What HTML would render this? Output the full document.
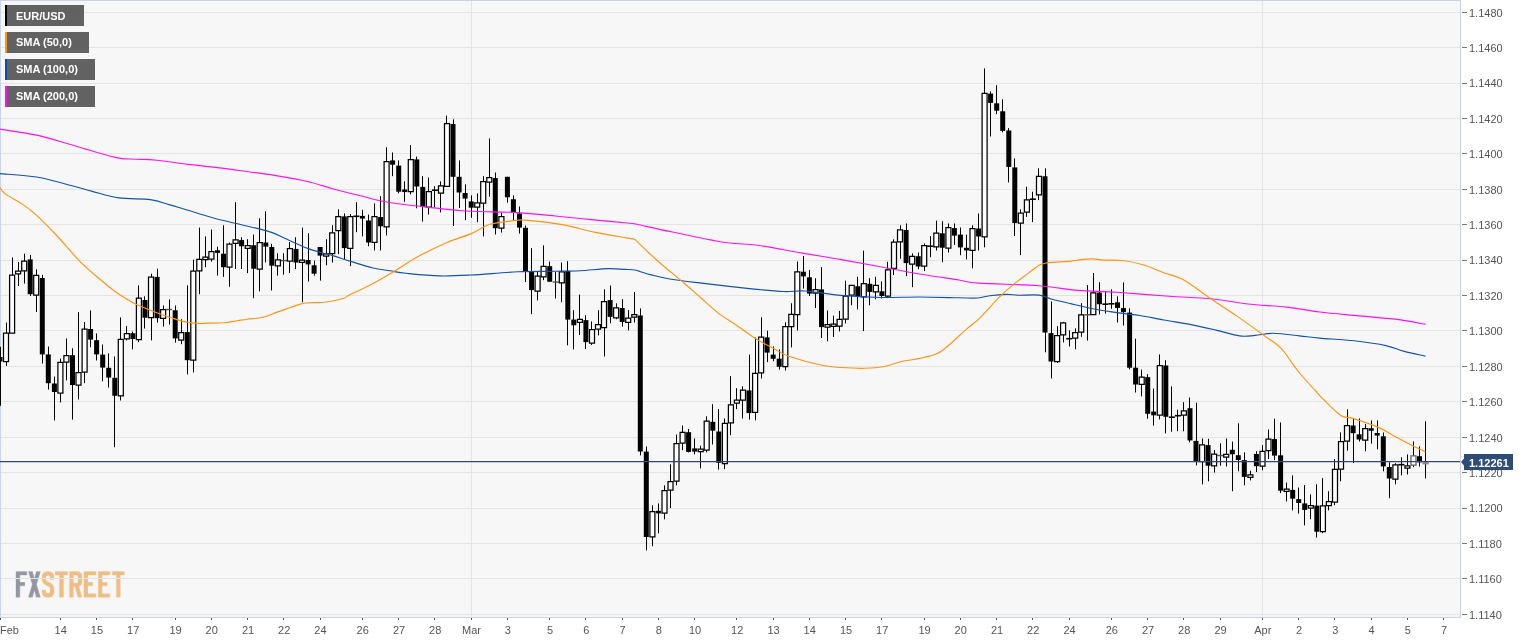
<!DOCTYPE html>
<html><head><meta charset="utf-8"><title>EUR/USD</title>
<style>
html,body{margin:0;padding:0;background:#fff;}
body{width:1531px;height:643px;overflow:hidden;font-family:"Liberation Sans",sans-serif;}
svg{display:block;will-change:transform;opacity:0.999}
text{font-family:"Liberation Sans",sans-serif;font-size:11px;}
.ax{fill:#555;}
.lg{fill:#fff;font-weight:bold;}
</style></head><body>
<svg width="1531" height="643" viewBox="0 0 1531 643">
<rect x="0" y="0" width="1531" height="643" fill="#fff"/>
<rect x="0" y="0" width="1461" height="618" fill="#f7f7f7"/>
<svg x="8" y="562" width="126" height="43" viewBox="0 0 1531 522">
<g fill="#9397a3"><path d="M95 115H230V160H145V245H205V290H145V430H95z"/><path d="M245 115H298L320 200L342 115H395L347 272L395 430H342L320 345L298 430H245L293 272z"/></g>
<g fill="#edbd84"><path d="M570 115H725V160H675V430H622V160H570z"/><path d="M1265 115H1415V160H1365V430H1315V160H1265z"/><path d="M920 115H1070V160H970V245H1030V290H970V385H1070V430H920z"/><path d="M1095 115H1240V160H1145V245H1205V290H1145V385H1240V430H1095z"/><path d="M745 115H835Q900 115 900 180V235Q900 285 862 298L900 430H848L812 300H795V430H745z M795 160V255H830Q850 255 850 232V183Q850 160 830 160z" fill-rule="evenodd"/></g>
<path d="M535 215V185Q535 138 485 138Q435 138 435 185V205Q435 240 470 258L500 274Q535 292 535 325V360Q535 407 485 407Q435 407 435 360V340" fill="none" stroke="#edbd84" stroke-width="50"/>
</svg>
<path d="M1 12.50 H1460 M1 47.50 H1460 M1 83.50 H1460 M1 118.50 H1460 M1 153.50 H1460 M1 189.50 H1460 M1 224.50 H1460 M1 260.50 H1460 M1 295.50 H1460 M1 330.50 H1460 M1 366.50 H1460 M1 401.50 H1460 M1 437.50 H1460 M1 472.50 H1460 M1 508.50 H1460 M1 543.50 H1460 M1 578.50 H1460 M1 614.50 H1460 M471.5 1 V617 M1262.5 1 V617" stroke="#e4e4e4" stroke-width="1" fill="none"/>
<path d="M0.5 0V617.5H1460.5V0 M0 0.5H1461" stroke="#ccd3e6" stroke-width="1" fill="none" shape-rendering="crispEdges"/>
<g clip-path="url(#cp)">
<clipPath id="cp"><rect x="0" y="1" width="1460" height="616"/></clipPath>
<path d="M0.5 346.8V405.7" stroke="#000"/><path d="M-2.5 357h5V361.5h-5z"/>
<path d="M6.5 322.5V366" stroke="#000"/><path d="M3.5 333.1h5V361.7h-5z" fill="#fff" stroke="#000" stroke-width="1.25"/>
<path d="M12.5 257.4V333.3" stroke="#000"/><path d="M9.6 275.1h5V333.2h-5z" fill="#fff" stroke="#000" stroke-width="1.25"/>
<path d="M18.5 262V286" stroke="#000"/><path d="M15.6 271.1h5V273.9h-5z" fill="#fff" stroke="#000" stroke-width="1.25"/>
<path d="M24.5 253.7V283.5" stroke="#000"/><path d="M21.7 261.1h5V270.9h-5z" fill="#fff" stroke="#000" stroke-width="1.25"/>
<path d="M30.5 255V296" stroke="#000"/><path d="M27.7 259.4h5V294.2h-5z"/>
<path d="M36.5 269.4V312" stroke="#000"/><path d="M33.7 275.4h5V295.1h-5z" fill="#fff" stroke="#000" stroke-width="1.25"/>
<path d="M42.5 274.8V363.6" stroke="#000"/><path d="M39.8 278h5V354.4h-5z"/>
<path d="M48.5 346.5V389.6" stroke="#000"/><path d="M45.8 354.4h5V383.2h-5z"/>
<path d="M54.5 376.5V420.5" stroke="#000"/><path d="M51.9 383.5h5V392h-5z"/>
<path d="M60.5 358.6V402.4" stroke="#000"/><path d="M57.9 362.3h5V393.1h-5z" fill="#fff" stroke="#000" stroke-width="1.25"/>
<path d="M66.5 338.4V380.4" stroke="#000"/><path d="M63.9 355.5h5V362.1h-5z" fill="#fff" stroke="#000" stroke-width="1.25"/>
<path d="M72.5 348.3V419.6" stroke="#000"/><path d="M70 355.2h5V385h-5z"/>
<path d="M78.5 312.1V399.4" stroke="#000"/><path d="M76 372.5h5V385.1h-5z" fill="#fff" stroke="#000" stroke-width="1.25"/>
<path d="M84.5 322V383.2" stroke="#000"/><path d="M82.1 329.1h5V372.2h-5z" fill="#fff" stroke="#000" stroke-width="1.25"/>
<path d="M90.5 310.4V347.2" stroke="#000"/><path d="M88.1 329h5V339.6h-5z"/>
<path d="M96.5 333.4V360.5" stroke="#000"/><path d="M94.1 340.2h5V354.4h-5z"/>
<path d="M102.5 344.5V381.3" stroke="#000"/><path d="M100.2 354.6h5V367.6h-5z"/>
<path d="M108.5 353.4V387.5" stroke="#000"/><path d="M106.2 367.8h5V377.6h-5z"/>
<path d="M114.5 356.5V447.2" stroke="#000"/><path d="M112.3 377.8h5V395.8h-5z"/>
<path d="M120.5 317.4V400.5" stroke="#000"/><path d="M118.3 339.3h5V395.8h-5z" fill="#fff" stroke="#000" stroke-width="1.25"/>
<path d="M126.5 326.1V340.4" stroke="#000"/><path d="M124.4 333.5h5V338.9h-5z" fill="#fff" stroke="#000" stroke-width="1.25"/>
<path d="M132.5 331.5V349.4" stroke="#000"/><path d="M130.4 333.2h5V339h-5z"/>
<path d="M138.5 285.4V342.2" stroke="#000"/><path d="M136.4 298.2h5V339.7h-5z" fill="#fff" stroke="#000" stroke-width="1.25"/>
<path d="M144.5 296.4V328.5" stroke="#000"/><path d="M142.5 300h5V317.7h-5z"/>
<path d="M151.5 273.7V340.4" stroke="#000"/><path d="M148.5 277h5V317.6h-5z" fill="#fff" stroke="#000" stroke-width="1.25"/>
<path d="M157.5 268.7V322.6" stroke="#000"/><path d="M154.6 276.9h5V318.2h-5z"/>
<path d="M163.5 305.5V326.6" stroke="#000"/><path d="M160.6 309.6h5V318.4h-5z" fill="#fff" stroke="#000" stroke-width="1.25"/>
<path d="M169.5 299.4V324.6" stroke="#000"/><path d="M166.1 309.5h6" stroke="#505050" stroke-width="1.4"/>
<path d="M175.5 305.5V342.6" stroke="#000"/><path d="M172.7 310.3h5V338.4h-5z"/>
<path d="M181.5 319.2V344.2" stroke="#000"/><path d="M178.7 332.5h5V340.2h-5z" fill="#fff" stroke="#000" stroke-width="1.25"/>
<path d="M187.5 285.4V374.4" stroke="#000"/><path d="M184.8 332.1h5V360.2h-5z"/>
<path d="M193.5 259.7V372.5" stroke="#000"/><path d="M190.8 271h5V360.2h-5z" fill="#fff" stroke="#000" stroke-width="1.25"/>
<path d="M199.5 227.6V294.2" stroke="#000"/><path d="M196.8 259.4h5V270.8h-5z" fill="#fff" stroke="#000" stroke-width="1.25"/>
<path d="M205.5 236.4V267.2" stroke="#000"/><path d="M202.9 257.2h5V259.6h-5z" fill="#fff" stroke="#000" stroke-width="1.25"/>
<path d="M211.5 229.5V261.6" stroke="#000"/><path d="M208.9 251.5h5V259.2h-5z" fill="#fff" stroke="#000" stroke-width="1.25"/>
<path d="M217.5 246.6V275.6" stroke="#000"/><path d="M215 250.3h5V252.9h-5z"/>
<path d="M223.5 225.2V276.9" stroke="#000"/><path d="M221 253.7h5V267.2h-5z"/>
<path d="M229.5 242.5V286.8" stroke="#000"/><path d="M227 244h5V267.1h-5z" fill="#fff" stroke="#000" stroke-width="1.25"/>
<path d="M235.5 202.2V269" stroke="#000"/><path d="M233.1 239.8h5V243.3h-5z" fill="#fff" stroke="#000" stroke-width="1.25"/>
<path d="M241.5 237.3V269" stroke="#000"/><path d="M239.1 240.1h5V246.3h-5z"/>
<path d="M247.5 239.2V273.1" stroke="#000"/><path d="M245.2 245.5h5V248.3h-5z" fill="#fff" stroke="#000" stroke-width="1.25"/>
<path d="M253.5 234.5V298.3" stroke="#000"/><path d="M251.2 245.3h5V268.7h-5z"/>
<path d="M259.5 218.3V291.4" stroke="#000"/><path d="M257.2 242.7h5V269.2h-5z" fill="#fff" stroke="#000" stroke-width="1.25"/>
<path d="M265.5 211.2V262.5" stroke="#000"/><path d="M263.3 242.5h5V246.6h-5z"/>
<path d="M271.5 243.8V290.5" stroke="#000"/><path d="M269.3 247h5V265.7h-5z"/>
<path d="M277.5 253.2V275.6" stroke="#000"/><path d="M275.4 259.8h5V265.8h-5z" fill="#fff" stroke="#000" stroke-width="1.25"/>
<path d="M283.5 253.2V274.6" stroke="#000"/><path d="M280.9 260.6h6" stroke="#505050" stroke-width="1.4"/>
<path d="M289.5 242V273.1" stroke="#000"/><path d="M287.4 248.7h5V261.1h-5z" fill="#fff" stroke="#000" stroke-width="1.25"/>
<path d="M295.5 237.3V269" stroke="#000"/><path d="M293.5 248.9h5V262.5h-5z"/>
<path d="M302.5 227.6V302.2" stroke="#000"/><path d="M299.5 260.1h5V262.4h-5z" fill="#fff" stroke="#000" stroke-width="1.25"/>
<path d="M308.5 233.2V281.5" stroke="#000"/><path d="M305.6 260h5V264.4h-5z"/>
<path d="M314.5 260.6V275.6" stroke="#000"/><path d="M311.6 265.3h5V273.7h-5z"/>
<path d="M320.5 247V280.6" stroke="#000"/><path d="M317.6 247h5V255.6h-5z"/>
<path d="M326.5 239.2V265.3" stroke="#000"/><path d="M323.7 253.9h5V256.2h-5z" fill="#fff" stroke="#000" stroke-width="1.25"/>
<path d="M332.5 225.2V262.5" stroke="#000"/><path d="M329.7 232.8h5V253.5h-5z" fill="#fff" stroke="#000" stroke-width="1.25"/>
<path d="M338.5 209.3V254.1" stroke="#000"/><path d="M335.8 216.6h5V230.7h-5z" fill="#fff" stroke="#000" stroke-width="1.25"/>
<path d="M344.5 213.4V259.7" stroke="#000"/><path d="M341.8 216.4h5V248.1h-5z"/>
<path d="M350.5 214V266.2" stroke="#000"/><path d="M347.8 216.6h5V248.3h-5z" fill="#fff" stroke="#000" stroke-width="1.25"/>
<path d="M356.5 202.2V232.2" stroke="#000"/><path d="M353.4 216.3h6" stroke="#000" stroke-width="1.6"/>
<path d="M362.5 209.8V236.4" stroke="#000"/><path d="M359.9 215.9h5V218.6h-5z"/>
<path d="M368.5 214.6V246.3" stroke="#000"/><path d="M366 220.5h5V242.5h-5z"/>
<path d="M374.5 203.4V250.4" stroke="#000"/><path d="M372 216.6h5V242.3h-5z" fill="#fff" stroke="#000" stroke-width="1.25"/>
<path d="M380.5 196.2V250.4" stroke="#000"/><path d="M378.1 217h5V226.3h-5z"/>
<path d="M386.5 147.3V235.4" stroke="#000"/><path d="M384.1 161.5h5V226.9h-5z" fill="#fff" stroke="#000" stroke-width="1.25"/>
<path d="M392.5 152.5V176.2" stroke="#000"/><path d="M390.1 160.4h5V164.7h-5z"/>
<path d="M398.5 160.4V193.4" stroke="#000"/><path d="M396.2 165.6h5V191.7h-5z"/>
<path d="M404.5 181.3V201.7" stroke="#000"/><path d="M402.2 189.5h5V192.1h-5z"/>
<path d="M410.5 145.1V194.3" stroke="#000"/><path d="M408.3 159.6h5V191.5h-5z" fill="#fff" stroke="#000" stroke-width="1.25"/>
<path d="M416.5 156.6V208.3" stroke="#000"/><path d="M414.3 159.4h5V186.5h-5z"/>
<path d="M422.5 176.2V221.6" stroke="#000"/><path d="M420.3 186.9h5V207h-5z"/>
<path d="M428.5 177.5V214.5" stroke="#000"/><path d="M426.4 191.7h5V207.2h-5z" fill="#fff" stroke="#000" stroke-width="1.25"/>
<path d="M434.5 186.1V207.2" stroke="#000"/><path d="M431.9 190.2h6" stroke="#000" stroke-width="1.6"/>
<path d="M440.5 181.3V212.4" stroke="#000"/><path d="M438.5 185.8h5V193.2h-5z" fill="#fff" stroke="#000" stroke-width="1.25"/>
<path d="M446.5 115.6V186.5" stroke="#000"/><path d="M444.5 123.6h5V186.3h-5z" fill="#fff" stroke="#000" stroke-width="1.25"/>
<path d="M453.5 119.3V226" stroke="#000"/><path d="M450.5 124h5V176.8h-5z"/>
<path d="M459.5 160.4V208" stroke="#000"/><path d="M456.6 176.8h5V192.5h-5z"/>
<path d="M465.5 184.3V220.2" stroke="#000"/><path d="M462.6 193h5V198.6h-5z"/>
<path d="M471.5 195.4V217.8" stroke="#000"/><path d="M468.7 201.4h5V207.7h-5z"/>
<path d="M477.5 193.4V222.2" stroke="#000"/><path d="M474.7 202.8h5V207.2h-5z" fill="#fff" stroke="#000" stroke-width="1.25"/>
<path d="M483.5 176.2V236.4" stroke="#000"/><path d="M480.7 181.5h5V203.2h-5z" fill="#fff" stroke="#000" stroke-width="1.25"/>
<path d="M489.5 138.4V196.8" stroke="#000"/><path d="M486.8 177.7h5V182h-5z" fill="#fff" stroke="#000" stroke-width="1.25"/>
<path d="M495.5 172.5V234.5" stroke="#000"/><path d="M492.8 178.1h5V228.2h-5z"/>
<path d="M501.5 212.8V232.6" stroke="#000"/><path d="M498.9 216.5h5V228.2h-5z" fill="#fff" stroke="#000" stroke-width="1.25"/>
<path d="M507.5 176.8V202.6" stroke="#000"/><path d="M504.9 176.8h5V197.3h-5z"/>
<path d="M513.5 195.4V220" stroke="#000"/><path d="M510.9 199.2h5V212.4h-5z"/>
<path d="M519.5 206.5V233.6" stroke="#000"/><path d="M517 213.4h5V227.6h-5z"/>
<path d="M525.5 225.5V282.1" stroke="#000"/><path d="M523 227.8h5V271.8h-5z"/>
<path d="M531.5 248.1V314.2" stroke="#000"/><path d="M529.1 271.8h5V290.1h-5z"/>
<path d="M537.5 271.8V300.4" stroke="#000"/><path d="M535.1 276.2h5V291.2h-5z" fill="#fff" stroke="#000" stroke-width="1.25"/>
<path d="M543.5 245.3V280.2" stroke="#000"/><path d="M541.1 266.3h5V276.9h-5z" fill="#fff" stroke="#000" stroke-width="1.25"/>
<path d="M549.5 261.6V281.7" stroke="#000"/><path d="M547.2 266.2h5V281.7h-5z"/>
<path d="M555.5 271.8V298.5" stroke="#000"/><path d="M552.7 282.1h6" stroke="#505050" stroke-width="1.4"/>
<path d="M561.5 262.5V302.3" stroke="#000"/><path d="M559.3 271.9h5V282.9h-5z" fill="#fff" stroke="#000" stroke-width="1.25"/>
<path d="M567.5 261.2V345.3" stroke="#000"/><path d="M565.3 270.9h5V319.6h-5z"/>
<path d="M573.5 310.2V349.4" stroke="#000"/><path d="M571.3 319.6h5V325.3h-5z"/>
<path d="M579.5 294.6V335" stroke="#000"/><path d="M577.4 319.3h5V322.4h-5z" fill="#fff" stroke="#000" stroke-width="1.25"/>
<path d="M585.5 315.1V349" stroke="#000"/><path d="M583.4 320.1h5V342.1h-5z"/>
<path d="M591.5 321.4V345" stroke="#000"/><path d="M589.5 329.5h5V343.2h-5z" fill="#fff" stroke="#000" stroke-width="1.25"/>
<path d="M598.5 310.2V335.4" stroke="#000"/><path d="M595.5 324.5h5V329.2h-5z" fill="#fff" stroke="#000" stroke-width="1.25"/>
<path d="M604.5 289.3V356.5" stroke="#000"/><path d="M601.5 301.6h5V327.5h-5z" fill="#fff" stroke="#000" stroke-width="1.25"/>
<path d="M610.5 285.6V323.3" stroke="#000"/><path d="M607.6 300.1h5V316.9h-5z"/>
<path d="M616.5 303.3V319.2" stroke="#000"/><path d="M613.6 307.8h5V317.8h-5z" fill="#fff" stroke="#000" stroke-width="1.25"/>
<path d="M622.5 299.2V326.6" stroke="#000"/><path d="M619.7 308h5V322h-5z"/>
<path d="M628.5 310.2V330.4" stroke="#000"/><path d="M625.7 318h5V322.4h-5z" fill="#fff" stroke="#000" stroke-width="1.25"/>
<path d="M634.5 292.1V322.5" stroke="#000"/><path d="M631.8 314.7h5V317.1h-5z" fill="#fff" stroke="#000" stroke-width="1.25"/>
<path d="M640.5 308.4V455.4" stroke="#000"/><path d="M637.8 315.4h5V451.6h-5z"/>
<path d="M646.5 446.5V550.4" stroke="#000"/><path d="M643.8 451.6h5V537h-5z"/>
<path d="M652.5 505.3V546.3" stroke="#000"/><path d="M649.9 511.6h5V536.9h-5z" fill="#fff" stroke="#000" stroke-width="1.25"/>
<path d="M658.5 503.4V533.3" stroke="#000"/><path d="M655.9 510.8h5V513.4h-5z"/>
<path d="M664.5 485.3V519.3" stroke="#000"/><path d="M662 490.5h5V513.1h-5z" fill="#fff" stroke="#000" stroke-width="1.25"/>
<path d="M670.5 464.3V508.1" stroke="#000"/><path d="M668 481.5h5V490.2h-5z" fill="#fff" stroke="#000" stroke-width="1.25"/>
<path d="M676.5 434.5V485.3" stroke="#000"/><path d="M674 443.5h5V481.2h-5z" fill="#fff" stroke="#000" stroke-width="1.25"/>
<path d="M682.5 425.5V450.1" stroke="#000"/><path d="M680.1 432.3h5V443.2h-5z" fill="#fff" stroke="#000" stroke-width="1.25"/>
<path d="M688.5 429V452.4" stroke="#000"/><path d="M686.1 432.2h5V451.9h-5z"/>
<path d="M694.5 438.5V454.3" stroke="#000"/><path d="M692.2 448.4h5V451.6h-5z"/>
<path d="M700.5 445.7V468.4" stroke="#000"/><path d="M698.2 449.2h5V451.5h-5z" fill="#fff" stroke="#000" stroke-width="1.25"/>
<path d="M706.5 416.3V452.4" stroke="#000"/><path d="M704.2 421.1h5V450h-5z" fill="#fff" stroke="#000" stroke-width="1.25"/>
<path d="M712.5 404.2V444.5" stroke="#000"/><path d="M710.3 421.8h5V430.7h-5z"/>
<path d="M718.5 409.1V469.6" stroke="#000"/><path d="M716.3 431.5h5V462.8h-5z"/>
<path d="M724.5 418.5V469.1" stroke="#000"/><path d="M722.4 423.4h5V463.5h-5z" fill="#fff" stroke="#000" stroke-width="1.25"/>
<path d="M730.5 376.1V435.2" stroke="#000"/><path d="M728.4 404.8h5V422.9h-5z" fill="#fff" stroke="#000" stroke-width="1.25"/>
<path d="M736.5 388.2V409.1" stroke="#000"/><path d="M734.4 400.2h5V403h-5z" fill="#fff" stroke="#000" stroke-width="1.25"/>
<path d="M742.5 386.3V418.5" stroke="#000"/><path d="M740.5 390.2h5V400h-5z" fill="#fff" stroke="#000" stroke-width="1.25"/>
<path d="M749.5 354.6V419.6" stroke="#000"/><path d="M746.5 390.4h5V413.1h-5z"/>
<path d="M755.5 337.5V420.3" stroke="#000"/><path d="M752.6 373.4h5V412.4h-5z" fill="#fff" stroke="#000" stroke-width="1.25"/>
<path d="M761.5 317.3V378.5" stroke="#000"/><path d="M758.6 337.2h5V372.8h-5z" fill="#fff" stroke="#000" stroke-width="1.25"/>
<path d="M767.5 330.7V362.1" stroke="#000"/><path d="M764.6 337.4h5V352.6h-5z"/>
<path d="M773.5 346.4V361.2" stroke="#000"/><path d="M770.7 354.6h5V358.8h-5z"/>
<path d="M779.5 349.4V369.6" stroke="#000"/><path d="M776.7 358.7h5V366.8h-5z"/>
<path d="M785.5 322.3V370.5" stroke="#000"/><path d="M782.8 326.6h5V366.7h-5z" fill="#fff" stroke="#000" stroke-width="1.25"/>
<path d="M791.5 303.3V347.4" stroke="#000"/><path d="M788.8 314.4h5V326.6h-5z" fill="#fff" stroke="#000" stroke-width="1.25"/>
<path d="M797.5 261.5V330.4" stroke="#000"/><path d="M794.8 271.8h5V314.5h-5z" fill="#fff" stroke="#000" stroke-width="1.25"/>
<path d="M803.5 255.9V288.6" stroke="#000"/><path d="M800.9 271.7h5V276.4h-5z"/>
<path d="M809.5 269.9V296" stroke="#000"/><path d="M806.9 277.3h5V293.6h-5z"/>
<path d="M815.5 278.2V308.1" stroke="#000"/><path d="M813 289.5h5V293.1h-5z" fill="#fff" stroke="#000" stroke-width="1.25"/>
<path d="M821.5 267.1V338" stroke="#000"/><path d="M819 289.4h5V327.1h-5z"/>
<path d="M827.5 310.5V341.3" stroke="#000"/><path d="M825 324.7h5V327.1h-5z" fill="#fff" stroke="#000" stroke-width="1.25"/>
<path d="M833.5 315.6V337" stroke="#000"/><path d="M831.1 324h5V326.3h-5z" fill="#fff" stroke="#000" stroke-width="1.25"/>
<path d="M839.5 310.9V331.4" stroke="#000"/><path d="M837.1 319.4h5V326.2h-5z" fill="#fff" stroke="#000" stroke-width="1.25"/>
<path d="M845.5 280.7V323.4" stroke="#000"/><path d="M843.2 296.1h5V319.2h-5z" fill="#fff" stroke="#000" stroke-width="1.25"/>
<path d="M851.5 285.3V305.3" stroke="#000"/><path d="M849.2 285.4h5V295.2h-5z" fill="#fff" stroke="#000" stroke-width="1.25"/>
<path d="M857.5 276.8V309.4" stroke="#000"/><path d="M855.3 286.3h5V296.9h-5z"/>
<path d="M863.5 250.6V331" stroke="#000"/><path d="M861.3 283.6h5V296.8h-5z" fill="#fff" stroke="#000" stroke-width="1.25"/>
<path d="M869.5 278.2V305.3" stroke="#000"/><path d="M867.3 283.8h5V291.9h-5z"/>
<path d="M875.5 276.8V299.3" stroke="#000"/><path d="M873.4 285.4h5V291.8h-5z" fill="#fff" stroke="#000" stroke-width="1.25"/>
<path d="M881.5 281.4V298.4" stroke="#000"/><path d="M879.4 291.3h5V296h-5z"/>
<path d="M887.5 261.8V298.2" stroke="#000"/><path d="M885.5 269.9h5V296.2h-5z" fill="#fff" stroke="#000" stroke-width="1.25"/>
<path d="M893.5 239.3V275" stroke="#000"/><path d="M891.5 242.2h5V268.4h-5z" fill="#fff" stroke="#000" stroke-width="1.25"/>
<path d="M900.5 225.3V258.8" stroke="#000"/><path d="M897.5 229.8h5V241.9h-5z" fill="#fff" stroke="#000" stroke-width="1.25"/>
<path d="M906.5 223.4V276.2" stroke="#000"/><path d="M903.6 230h5V263.1h-5z"/>
<path d="M912.5 253.3V287.2" stroke="#000"/><path d="M909.6 256.3h5V264.2h-5z" fill="#fff" stroke="#000" stroke-width="1.25"/>
<path d="M918.5 252.5V269.2" stroke="#000"/><path d="M915.7 256.2h5V266.5h-5z"/>
<path d="M924.5 243.4V271.1" stroke="#000"/><path d="M921.7 245.6h5V266.2h-5z" fill="#fff" stroke="#000" stroke-width="1.25"/>
<path d="M930.5 236.1V257.2" stroke="#000"/><path d="M927.2 246.2h6" stroke="#000" stroke-width="1.6"/>
<path d="M936.5 220.6V250.5" stroke="#000"/><path d="M933.8 233h5V246.9h-5z" fill="#fff" stroke="#000" stroke-width="1.25"/>
<path d="M942.5 221.2V262.3" stroke="#000"/><path d="M939.8 233.3h5V247.7h-5z"/>
<path d="M948.5 223.4V252.5" stroke="#000"/><path d="M945.9 227.7h5V248.2h-5z" fill="#fff" stroke="#000" stroke-width="1.25"/>
<path d="M954.5 223.4V244.9" stroke="#000"/><path d="M951.9 228.1h5V235.6h-5z"/>
<path d="M960.5 227.5V255.2" stroke="#000"/><path d="M957.9 234.6h5V247.4h-5z"/>
<path d="M966.5 234.6V259.4" stroke="#000"/><path d="M964 247.8h5V250.4h-5z"/>
<path d="M972.5 225.3V268.3" stroke="#000"/><path d="M970 228.7h5V250.4h-5z" fill="#fff" stroke="#000" stroke-width="1.25"/>
<path d="M978.5 213.5V250.4" stroke="#000"/><path d="M976.1 228.5h5V236.5h-5z"/>
<path d="M984.5 68.4V247.3" stroke="#000"/><path d="M982.1 93.4h5V236.9h-5z" fill="#fff" stroke="#000" stroke-width="1.25"/>
<path d="M990.5 91.3V136.5" stroke="#000"/><path d="M988.1 93.6h5V102.9h-5z"/>
<path d="M996.5 85.2V114.1" stroke="#000"/><path d="M994.2 103.3h5V110.7h-5z"/>
<path d="M1002.5 99.2V132.4" stroke="#000"/><path d="M1000.2 111.3h5V130.9h-5z"/>
<path d="M1008.5 128.1V182.4" stroke="#000"/><path d="M1006.3 130.5h5V166.9h-5z"/>
<path d="M1014.5 158.5V236.1" stroke="#000"/><path d="M1012.3 167.4h5V223.1h-5z"/>
<path d="M1020.5 209.4V255.1" stroke="#000"/><path d="M1018.3 213h5V223.2h-5z" fill="#fff" stroke="#000" stroke-width="1.25"/>
<path d="M1026.5 186.7V216.9" stroke="#000"/><path d="M1024.4 199.8h5V212h-5z" fill="#fff" stroke="#000" stroke-width="1.25"/>
<path d="M1032.5 191.7V222.1" stroke="#000"/><path d="M1029.9 199.2h6" stroke="#000" stroke-width="1.6"/>
<path d="M1038.5 168.3V200.1" stroke="#000"/><path d="M1036.5 176.3h5V194.9h-5z" fill="#fff" stroke="#000" stroke-width="1.25"/>
<path d="M1045.5 168.3V352.3" stroke="#000"/><path d="M1042.5 176.2h5V332.5h-5z"/>
<path d="M1051.5 301.4V378.4" stroke="#000"/><path d="M1048.5 333.1h5V361.5h-5z"/>
<path d="M1057.5 326.2V363" stroke="#000"/><path d="M1054.6 335.6h5V361.5h-5z" fill="#fff" stroke="#000" stroke-width="1.25"/>
<path d="M1063.5 321.9V342.4" stroke="#000"/><path d="M1060.6 322.9h5V334.9h-5z" fill="#fff" stroke="#000" stroke-width="1.25"/>
<path d="M1069.5 330.3V346.5" stroke="#000"/><path d="M1066.2 338.7h6" stroke="#000" stroke-width="1.6"/>
<path d="M1075.5 328.4V349.3" stroke="#000"/><path d="M1072.7 332.6h5V338h-5z" fill="#fff" stroke="#000" stroke-width="1.25"/>
<path d="M1081.5 303.2V336.8" stroke="#000"/><path d="M1078.7 314.9h5V332.1h-5z" fill="#fff" stroke="#000" stroke-width="1.25"/>
<path d="M1087.5 285.1V340.6" stroke="#000"/><path d="M1084.3 314.8h6" stroke="#505050" stroke-width="1.4"/>
<path d="M1093.5 273V314.8" stroke="#000"/><path d="M1090.8 292.8h5V314.7h-5z" fill="#fff" stroke="#000" stroke-width="1.25"/>
<path d="M1099.5 282.2V314.4" stroke="#000"/><path d="M1096.9 292.6h5V304.2h-5z"/>
<path d="M1105.5 291.7V313.5" stroke="#000"/><path d="M1102.4 304.2h6" stroke="#000" stroke-width="1.6"/>
<path d="M1111.5 289.3V308.8" stroke="#000"/><path d="M1108.5 303.8h6" stroke="#000" stroke-width="1.6"/>
<path d="M1117.5 296.3V322.5" stroke="#000"/><path d="M1115 302.3h5V307.9h-5z"/>
<path d="M1123.5 282.4V325.6" stroke="#000"/><path d="M1121 308.1h5V312.1h-5z"/>
<path d="M1129.5 308.3V369.4" stroke="#000"/><path d="M1127.1 312.6h5V367.7h-5z"/>
<path d="M1135.5 338.7V392.5" stroke="#000"/><path d="M1133.1 367.7h5V384.5h-5z"/>
<path d="M1141.5 369.6V396.3" stroke="#000"/><path d="M1139.2 377.2h5V384.4h-5z" fill="#fff" stroke="#000" stroke-width="1.25"/>
<path d="M1147.5 374.2V418.7" stroke="#000"/><path d="M1145.2 377.1h5V413.8h-5z"/>
<path d="M1153.5 388.6V425.6" stroke="#000"/><path d="M1151.2 411.6h5V415.3h-5z"/>
<path d="M1159.5 354.4V419.4" stroke="#000"/><path d="M1157.3 365.6h5V415.2h-5z" fill="#fff" stroke="#000" stroke-width="1.25"/>
<path d="M1165.5 360.2V433.4" stroke="#000"/><path d="M1163.3 365.5h5V416.8h-5z"/>
<path d="M1171.5 386.4V431.7" stroke="#000"/><path d="M1168.9 417.2h6" stroke="#000" stroke-width="1.6"/>
<path d="M1177.5 409.7V431.2" stroke="#000"/><path d="M1174.9 415.7h6" stroke="#000" stroke-width="1.6"/>
<path d="M1183.5 402.2V431.3" stroke="#000"/><path d="M1181.4 410.8h5V415.2h-5z" fill="#fff" stroke="#000" stroke-width="1.25"/>
<path d="M1189.5 397.6V442.3" stroke="#000"/><path d="M1187.5 408.2h5V440.4h-5z"/>
<path d="M1196.5 402.6V465.4" stroke="#000"/><path d="M1193.5 440.9h5V461.5h-5z"/>
<path d="M1202.5 438.5V484.3" stroke="#000"/><path d="M1199.6 444.8h5V461.7h-5z" fill="#fff" stroke="#000" stroke-width="1.25"/>
<path d="M1208.5 438.8V481.3" stroke="#000"/><path d="M1205.6 445.1h5V465.7h-5z"/>
<path d="M1214.5 450V472.6" stroke="#000"/><path d="M1211.6 454.1h5V465.9h-5z" fill="#fff" stroke="#000" stroke-width="1.25"/>
<path d="M1220.5 443.3V465.7" stroke="#000"/><path d="M1217.2 455.5h6" stroke="#505050" stroke-width="1.4"/>
<path d="M1226.5 438.5V466.5" stroke="#000"/><path d="M1223.7 454.3h5V457.1h-5z" fill="#fff" stroke="#000" stroke-width="1.25"/>
<path d="M1232.5 441.6V491.2" stroke="#000"/><path d="M1229.8 449.8h5V454.3h-5z"/>
<path d="M1238.5 423.3V471.3" stroke="#000"/><path d="M1235.8 455.2h5V460h-5z"/>
<path d="M1244.5 452.4V485.3" stroke="#000"/><path d="M1241.8 460.1h5V476.9h-5z"/>
<path d="M1250.5 470.7V480.4" stroke="#000"/><path d="M1247.9 474.9h5V477.3h-5z" fill="#fff" stroke="#000" stroke-width="1.25"/>
<path d="M1256.5 451.2V472" stroke="#000"/><path d="M1253.9 454h5V466.2h-5z"/>
<path d="M1262.5 445.1V470.3" stroke="#000"/><path d="M1260 451.3h5V466.1h-5z" fill="#fff" stroke="#000" stroke-width="1.25"/>
<path d="M1268.5 429.5V459" stroke="#000"/><path d="M1266 439.2h5V450.6h-5z" fill="#fff" stroke="#000" stroke-width="1.25"/>
<path d="M1274.5 418.7V460.2" stroke="#000"/><path d="M1272 439.1h5V455.6h-5z"/>
<path d="M1280.5 422.4V493.1" stroke="#000"/><path d="M1278.1 455.3h5V490.7h-5z"/>
<path d="M1286.5 482.5V501.5" stroke="#000"/><path d="M1284.1 489.1h5V491.4h-5z" fill="#fff" stroke="#000" stroke-width="1.25"/>
<path d="M1292.5 475.4V510.4" stroke="#000"/><path d="M1290.2 489.9h5V498.7h-5z"/>
<path d="M1298.5 487.5V513.6" stroke="#000"/><path d="M1296.2 499.1h5V503h-5z"/>
<path d="M1304.5 485.1V525.4" stroke="#000"/><path d="M1302.2 503.4h5V509.9h-5z"/>
<path d="M1310.5 494.4V519.2" stroke="#000"/><path d="M1308.3 505.6h5V508h-5z" fill="#fff" stroke="#000" stroke-width="1.25"/>
<path d="M1316.5 484.3V537.5" stroke="#000"/><path d="M1314.3 505.6h5V531.7h-5z"/>
<path d="M1322.5 478.2V533.2" stroke="#000"/><path d="M1320.4 505.8h5V531.6h-5z" fill="#fff" stroke="#000" stroke-width="1.25"/>
<path d="M1328.5 491.2V510.4" stroke="#000"/><path d="M1326.4 501.6h5V505.5h-5z" fill="#fff" stroke="#000" stroke-width="1.25"/>
<path d="M1334.5 459.1V505.2" stroke="#000"/><path d="M1332.5 469.3h5V502h-5z" fill="#fff" stroke="#000" stroke-width="1.25"/>
<path d="M1340.5 432.4V481.3" stroke="#000"/><path d="M1338.5 441.5h5V469.2h-5z" fill="#fff" stroke="#000" stroke-width="1.25"/>
<path d="M1347.5 409.3V450.6" stroke="#000"/><path d="M1344.5 425.6h5V441.2h-5z" fill="#fff" stroke="#000" stroke-width="1.25"/>
<path d="M1353.5 418.5V463" stroke="#000"/><path d="M1350.6 425.5h5V433.2h-5z"/>
<path d="M1359.5 418.4V441.5" stroke="#000"/><path d="M1356.6 434.3h5V439.5h-5z"/>
<path d="M1365.5 424V451.3" stroke="#000"/><path d="M1362.7 428.5h5V440.1h-5z" fill="#fff" stroke="#000" stroke-width="1.25"/>
<path d="M1371.5 420.4V443.6" stroke="#000"/><path d="M1368.7 428.2h5V430.8h-5z"/>
<path d="M1377.5 420.4V449.4" stroke="#000"/><path d="M1374.7 433h5V435.6h-5z"/>
<path d="M1383.5 432.5V471.3" stroke="#000"/><path d="M1380.8 436.3h5V466.4h-5z"/>
<path d="M1389.5 462.3V498.3" stroke="#000"/><path d="M1386.8 467h5V478.5h-5z"/>
<path d="M1395.5 463.2V484.3" stroke="#000"/><path d="M1392.9 464.8h5V479h-5z" fill="#fff" stroke="#000" stroke-width="1.25"/>
<path d="M1401.5 457.3V475.4" stroke="#000"/><path d="M1398.4 464.7h6" stroke="#000" stroke-width="1.6"/>
<path d="M1407.5 454.4V474.5" stroke="#000"/><path d="M1404.9 465.9h5V468.2h-5z" fill="#fff" stroke="#000" stroke-width="1.25"/>
<path d="M1413.5 441.4V467.2" stroke="#000"/><path d="M1411 455.8h5V465.1h-5z" fill="#fff" stroke="#606060" stroke-width="1.3"/>
<path d="M1419.5 446.4V466.5" stroke="#000"/><path d="M1417 456.2h5V462.3h-5z"/>
<path d="M1425.5 421.3V478.5" stroke="#000"/><path d="M1422.4 463.3h6.4" stroke="#8c8c8c" stroke-width="2.2"/>
<path d="M0 129.1C5.9 130.1 24.4 132.6 35.3 134.9C46.2 137.2 55.9 140.3 65.3 143C74.7 145.7 82.5 148.3 91.4 150.8C100.3 153.3 111.5 156.7 118.9 158.1C126.3 159.5 129.6 158.8 135.9 159.2C142.2 159.5 148.1 159.3 156.8 160.2C165.5 161.1 177.2 163.1 188.1 164.4C199.0 165.7 212.1 166.9 222.1 168.1C232.1 169.3 239.5 170.5 248.2 171.7C256.9 172.9 264.3 173.7 274.3 175.4C284.3 177.1 298.3 179.4 308.3 181.7C318.3 184.0 325.7 186.8 334.4 189.2C343.1 191.5 352.9 193.9 360.5 195.8C368.1 197.7 372.3 199.2 379.9 200.7C387.5 202.2 397.0 203.6 406 204.8C415.0 206.0 424.7 206.9 434 207.9C443.3 208.9 452.3 210.0 461.9 210.7C471.5 211.4 482.5 211.6 491.8 211.9C501.1 212.2 507.3 211.9 517.9 212.6C528.5 213.3 544.9 215.0 555.2 216C565.6 217.0 570.9 217.6 580 218.5C589.1 219.4 601.7 220.6 610 221.4C618.3 222.2 625.9 222.9 630 223.3C634.1 223.7 633.0 223.6 634.5 223.8C636.0 224.1 632.9 223.5 639 224.8C645.1 226.1 657.0 228.9 671 231.8C685.0 234.7 708.8 239.9 723.3 242.2C737.8 244.4 744.6 243.5 757.7 245.3C770.8 247.1 788.2 250.7 802.1 253.1C816.0 255.5 828.2 257.3 841.3 259.6C854.3 261.9 867.3 264.3 880.4 266.7C893.5 269.1 906.5 271.8 919.6 274C932.7 276.2 949.0 278.5 958.8 280C968.6 281.5 965.0 282.2 978.3 283.1C991.6 284.1 1021.9 284.5 1038.4 285.7C1055.0 286.9 1064.5 289.3 1077.6 290.4C1090.7 291.5 1101.6 291.3 1116.8 292.3C1132.0 293.3 1153.3 295.1 1169 296.2C1184.7 297.3 1197.7 297.5 1210.8 298.8C1223.9 300.1 1234.8 302.6 1247.4 304C1260.0 305.4 1274.5 305.8 1286.6 307.1C1298.6 308.4 1307.6 310.5 1319.7 312C1331.8 313.5 1346.2 314.6 1359.4 315.9C1372.6 317.2 1388.0 318.2 1399 319.6C1410.0 321.0 1421.1 323.6 1425.5 324.4" fill="none" stroke="#ff10f0" stroke-width="1.15"/>
<path d="M0 173.6C6.1 174.2 25.7 175.3 36.6 177C47.5 178.7 56.2 181.7 65.3 184C74.4 186.3 82.5 188.8 91.4 191.1C100.3 193.4 109.1 196.5 118.9 197.9C128.7 199.3 141.7 198.4 150.2 199.6C158.7 200.8 164.1 203.3 169.8 204.9C175.5 206.5 177.5 207.2 184.6 209.3C191.7 211.4 204.2 215.4 212.6 217.7C221.0 220.0 227.2 221.4 235 223.3C242.8 225.2 253.1 227.4 259.3 228.9C265.5 230.4 268.4 231.2 272.3 232.6C276.2 234.0 279.3 235.8 283 237.5C286.7 239.2 290.4 240.9 294.5 242.7C298.6 244.5 303.2 246.8 307.6 248.4C312.0 250.0 316.2 251.2 320.6 252.5C325.0 253.8 328.7 254.4 333.7 255.9C338.7 257.4 344.2 259.4 350.7 261.4C357.2 263.4 366.3 266.4 372.9 268C379.4 269.6 384.5 269.9 390 270.8C395.5 271.7 397.7 272.5 406 273.3C414.3 274.1 428.7 275.6 439.6 275.9C450.5 276.2 458.2 275.7 471.3 275C484.4 274.3 503.9 272.4 517.9 271.8C531.9 271.2 544.9 271.5 555.2 271.3C565.6 271.1 571.1 271.1 580 270.7C588.9 270.2 600.8 268.8 608.3 268.6C615.8 268.4 620.6 269.2 625 269.4C629.4 269.6 632.0 269.6 634.5 270C637.0 270.4 637.2 270.7 640 271.5C642.8 272.3 646.2 273.6 651.4 274.9C656.6 276.2 662.3 277.8 671 279.2C679.7 280.6 690.6 281.8 703.7 283.4C716.8 285.0 736.0 287.2 749.4 288.6C762.8 290.0 774.6 291.1 783.8 291.5C793.0 291.9 795.1 290.4 804.7 291C814.3 291.6 828.7 294.3 841.3 295.4C853.9 296.5 867.3 297.2 880.4 297.5C893.5 297.8 906.5 296.9 919.6 297C932.7 297.1 949.1 297.6 958.8 297.8C968.5 298.0 972.8 298.4 977.9 298C983.0 297.6 984.8 296.3 989.6 295.7C994.4 295.1 1001.8 294.5 1006.6 294.4C1011.4 294.3 1013.0 295.1 1018.4 295.2C1023.8 295.3 1033.9 294.5 1039.3 295.1C1044.7 295.7 1045.8 297.6 1051 299C1056.2 300.4 1063.0 301.9 1070.6 303.6C1078.2 305.4 1088.1 307.9 1096.8 309.5C1105.5 311.1 1115.7 312.4 1122.9 313.4C1130.1 314.4 1133.2 314.4 1140 315.5C1146.8 316.6 1155.5 318.5 1163.8 320C1172.1 321.5 1181.2 322.7 1189.9 324.4C1198.6 326.1 1207.7 328.2 1216 330.1C1224.3 332.0 1233.1 335.0 1239.6 335.9C1246.1 336.8 1249.5 335.8 1255.2 335.4C1260.9 335.0 1266.1 333.2 1273.5 333.3C1280.9 333.4 1291.9 335.1 1299.6 335.9C1307.3 336.7 1310.6 337.3 1319.7 338.1C1328.8 338.9 1343.1 339.6 1354.1 340.8C1365.1 342.1 1377.4 343.8 1385.8 345.6C1394.2 347.4 1397.7 349.6 1404.3 351.4C1410.9 353.1 1422.0 355.3 1425.5 356.1" fill="none" stroke="#1452a8" stroke-width="1.15"/>
<path d="M0 187.5C0.9 188.6 1.3 191.0 5.2 193.9C9.1 196.8 18.3 201.3 23.5 204.9C28.7 208.5 31.2 210.4 36.6 215.4C42.1 220.4 49.2 227.6 56.2 235C63.2 242.4 71.8 253.0 78.4 259.8C85.0 266.6 90.1 270.9 96 276C101.9 281.1 108.9 286.8 113.7 290.5C118.5 294.2 121.1 295.6 125 298C128.9 300.4 131.9 302.3 137.2 304.8C142.5 307.3 151.3 310.7 156.8 312.8C162.3 314.9 165.7 315.9 170 317.3C174.3 318.7 178.2 320.4 182.9 321.4C187.6 322.4 194.0 323.1 198.2 323.4C202.4 323.7 203.8 323.2 208 323.1C212.2 323.0 218.8 323.2 223.7 322.8C228.6 322.4 233.6 321.3 237.5 320.7C241.4 320.1 243.1 319.8 247.3 319.2C251.6 318.6 257.9 318.4 263 317.2C268.1 316.0 272.3 313.9 277.9 311.9C283.5 309.9 291.9 306.9 296.6 305.4C301.3 303.9 301.2 303.5 305.9 303C310.6 302.5 318.4 302.9 324.6 302.2C330.8 301.4 339.0 299.8 343.2 298.5C347.4 297.2 345.8 296.7 350 294.6C354.2 292.5 361.2 289.8 368.7 285.8C376.2 281.9 386.7 275.7 394.8 270.9C402.9 266.1 408.5 261.6 417.2 256.9C425.9 252.2 438.0 246.4 447 242.5C456.0 238.6 464.2 236.6 471.3 233.6C478.4 230.6 483.1 226.4 489.9 224.3C496.7 222.2 506.4 221.6 512.3 220.9C518.2 220.2 517.3 219.5 525.4 220.1C533.5 220.7 551.7 223.0 560.8 224.4C569.9 225.8 574.2 227.4 580 228.7C585.8 230.0 588.6 231.1 595.3 232.4C602.0 233.7 614.0 235.7 620 236.7C626.0 237.7 628.6 238.2 631 238.6C633.4 239.0 633.3 238.7 634.5 239.3C635.7 239.9 634.1 238.7 638 242.3C641.9 246.0 650.2 254.3 658 261.2C665.8 268.1 677.2 277.2 684.5 283.5C691.8 289.8 696.1 293.7 701.8 298.7C707.5 303.7 712.7 308.9 718.6 313.4C724.5 317.9 731.0 321.5 737.2 325.7C743.4 329.9 749.7 334.9 755.9 338.8C762.1 342.7 769.0 346.1 774.6 349C780.2 351.9 781.4 353.8 789.5 356.5C797.6 359.2 814.4 363.7 823 365.5C831.6 367.3 834.3 367.0 841.3 367.5C848.3 368.0 857.8 368.4 864.8 368.3C871.8 368.2 877.0 367.9 883.1 366.8C889.2 365.7 895.3 362.9 901.4 361.5C907.5 360.1 913.5 359.8 919.6 358.4C925.7 357.0 932.7 355.7 937.9 353.2C943.1 350.7 946.2 347.2 951 343.2C955.8 339.1 962.0 333.0 966.7 328.9C971.4 324.8 973.9 323.8 979.2 318.6C984.6 313.4 993.1 303.4 998.8 297.7C1004.5 292.0 1008.2 288.7 1013.2 284.6C1018.2 280.5 1025.0 275.8 1028.8 272.9C1032.6 270.0 1034.2 268.6 1036 267.3C1037.8 266.0 1038.0 265.5 1039.3 264.9C1040.6 264.3 1042.0 263.9 1044 263.5C1046.0 263.1 1046.6 262.8 1051 262.4C1055.4 262.0 1065.6 261.6 1070.6 261.1C1075.6 260.6 1077.4 260.0 1081.1 259.6C1084.8 259.2 1089.1 258.8 1092.8 258.9C1096.5 259.0 1098.3 259.8 1103.3 260.1C1108.3 260.4 1116.3 259.7 1122.9 260.5C1129.5 261.3 1136.1 262.8 1142.9 264.8C1149.7 266.8 1156.8 270.1 1163.8 272.7C1170.8 275.3 1176.9 276.1 1184.7 280.5C1192.5 284.9 1202.1 292.9 1210.8 298.8C1219.5 304.7 1228.6 310.4 1236.9 316.1C1245.2 321.8 1253.2 327.6 1260.5 332.9C1267.8 338.2 1275.3 342.8 1280.6 347.9C1285.9 353.0 1289.2 359.4 1292.4 363.6C1295.6 367.8 1295.8 368.5 1299.6 373C1303.4 377.5 1311.2 386.2 1315.3 390.7C1319.4 395.2 1319.8 395.9 1324.1 400C1328.3 404.1 1336.0 412.3 1340.8 415.4C1345.6 418.5 1346.5 416.4 1352.8 418.4C1359.1 420.4 1371.3 424.3 1378.4 427.4C1385.5 430.5 1389.8 433.7 1395.5 436.8C1401.2 439.9 1407.7 443.3 1412.7 445.8C1417.7 448.3 1423.4 450.9 1425.5 451.9" fill="none" stroke="#ff9412" stroke-width="1.15"/>
</g>
<path d="M0 461.6H1460" stroke="#2e4a73" stroke-width="1.2" fill="none"/>
<text class="ax" x="1469" y="16.58">1.1480</text>
<text class="ax" x="1469" y="51.99">1.1460</text>
<text class="ax" x="1469" y="87.41">1.1440</text>
<text class="ax" x="1469" y="122.83">1.1420</text>
<text class="ax" x="1469" y="158.24">1.1400</text>
<text class="ax" x="1469" y="193.66">1.1380</text>
<text class="ax" x="1469" y="229.07">1.1360</text>
<text class="ax" x="1469" y="264.49">1.1340</text>
<text class="ax" x="1469" y="299.90">1.1320</text>
<text class="ax" x="1469" y="335.31">1.1300</text>
<text class="ax" x="1469" y="370.73">1.1280</text>
<text class="ax" x="1469" y="406.14">1.1260</text>
<text class="ax" x="1469" y="441.56">1.1240</text>
<text class="ax" x="1469" y="476.97">1.1220</text>
<text class="ax" x="1469" y="512.39">1.1200</text>
<text class="ax" x="1469" y="547.80">1.1180</text>
<text class="ax" x="1469" y="583.22">1.1160</text>
<text class="ax" x="1469" y="618.63">1.1140</text>
<path d="M1462 12.50h5 M1462 47.50h5 M1462 83.50h5 M1462 118.50h5 M1462 153.50h5 M1462 189.50h5 M1462 224.50h5 M1462 260.50h5 M1462 295.50h5 M1462 330.50h5 M1462 366.50h5 M1462 401.50h5 M1462 437.50h5 M1462 472.50h5 M1462 508.50h5 M1462 543.50h5 M1462 578.50h5 M1462 614.50h5" stroke="#777" stroke-width="1" fill="none"/>
<text class="ax" x="0" y="634">Feb</text>
<text class="ax" x="60.7" y="634" text-anchor="middle">14</text>
<text class="ax" x="96.9" y="634" text-anchor="middle">15</text>
<text class="ax" x="133.2" y="634" text-anchor="middle">17</text>
<text class="ax" x="175.5" y="634" text-anchor="middle">19</text>
<text class="ax" x="211.7" y="634" text-anchor="middle">20</text>
<text class="ax" x="248" y="634" text-anchor="middle">21</text>
<text class="ax" x="284.2" y="634" text-anchor="middle">22</text>
<text class="ax" x="320.4" y="634" text-anchor="middle">24</text>
<text class="ax" x="362.7" y="634" text-anchor="middle">26</text>
<text class="ax" x="399" y="634" text-anchor="middle">27</text>
<text class="ax" x="435.2" y="634" text-anchor="middle">28</text>
<text class="ax" x="471.5" y="634" text-anchor="middle">Mar</text>
<text class="ax" x="507.7" y="634" text-anchor="middle">3</text>
<text class="ax" x="550" y="634" text-anchor="middle">5</text>
<text class="ax" x="586.2" y="634" text-anchor="middle">6</text>
<text class="ax" x="622.5" y="634" text-anchor="middle">7</text>
<text class="ax" x="658.7" y="634" text-anchor="middle">8</text>
<text class="ax" x="695" y="634" text-anchor="middle">10</text>
<text class="ax" x="737.2" y="634" text-anchor="middle">12</text>
<text class="ax" x="773.5" y="634" text-anchor="middle">13</text>
<text class="ax" x="809.7" y="634" text-anchor="middle">14</text>
<text class="ax" x="846" y="634" text-anchor="middle">15</text>
<text class="ax" x="882.2" y="634" text-anchor="middle">17</text>
<text class="ax" x="924.5" y="634" text-anchor="middle">19</text>
<text class="ax" x="960.7" y="634" text-anchor="middle">20</text>
<text class="ax" x="997" y="634" text-anchor="middle">21</text>
<text class="ax" x="1033.2" y="634" text-anchor="middle">22</text>
<text class="ax" x="1069.5" y="634" text-anchor="middle">24</text>
<text class="ax" x="1111.8" y="634" text-anchor="middle">26</text>
<text class="ax" x="1148" y="634" text-anchor="middle">27</text>
<text class="ax" x="1184.2" y="634" text-anchor="middle">28</text>
<text class="ax" x="1220.5" y="634" text-anchor="middle">29</text>
<text class="ax" x="1262.8" y="634" text-anchor="middle">Apr</text>
<text class="ax" x="1299" y="634" text-anchor="middle">2</text>
<text class="ax" x="1335.3" y="634" text-anchor="middle">3</text>
<text class="ax" x="1371.5" y="634" text-anchor="middle">4</text>
<text class="ax" x="1407.7" y="634" text-anchor="middle">5</text>
<text class="ax" x="1444" y="634" text-anchor="middle">7</text>
<path d="M0.5 618v2 M60.5 618v2 M96.5 618v2 M132.5 618v2 M175.5 618v2 M211.5 618v2 M247.5 618v2 M283.5 618v2 M320.5 618v2 M362.5 618v2 M398.5 618v2 M434.5 618v2 M471.5 618v2 M507.5 618v2 M549.5 618v2 M585.5 618v2 M622.5 618v2 M658.5 618v2 M694.5 618v2 M736.5 618v2 M773.5 618v2 M809.5 618v2 M845.5 618v2 M881.5 618v2 M924.5 618v2 M960.5 618v2 M996.5 618v2 M1032.5 618v2 M1069.5 618v2 M1111.5 618v2 M1147.5 618v2 M1183.5 618v2 M1220.5 618v2 M1262.5 618v2 M1298.5 618v2 M1334.5 618v2 M1371.5 618v2 M1407.5 618v2 M1443.5 618v2" stroke="#555" stroke-width="1" fill="none" shape-rendering="crispEdges"/>
<path d="M1464 454H1513V470H1464V465.5L1461 462L1464 458.5z" fill="#2e4c76"/>
<text x="1469" y="467" fill="#fff" font-weight="bold">1.12261</text>
<rect x="5" y="5" width="79" height="21" fill="#4d4d4d" fill-opacity="0.88"/>
<rect x="5" y="5" width="2" height="21" fill="#000"/>
<text class="lg" x="16" y="20">EUR/USD</text>
<rect x="5" y="32" width="84" height="21" fill="#4d4d4d" fill-opacity="0.88"/>
<rect x="5" y="32" width="2" height="21" fill="#ff9412"/>
<text class="lg" x="16" y="46">SMA (50,0)</text>
<rect x="5" y="59" width="90" height="21" fill="#4d4d4d" fill-opacity="0.88"/>
<rect x="5" y="59" width="2" height="21" fill="#0d4db3"/>
<text class="lg" x="16" y="73">SMA (100,0)</text>
<rect x="5" y="86" width="90" height="21" fill="#4d4d4d" fill-opacity="0.88"/>
<rect x="5" y="86" width="2" height="21" fill="#ff10f0"/>
<text class="lg" x="16" y="100">SMA (200,0)</text>
</svg>
</body></html>
